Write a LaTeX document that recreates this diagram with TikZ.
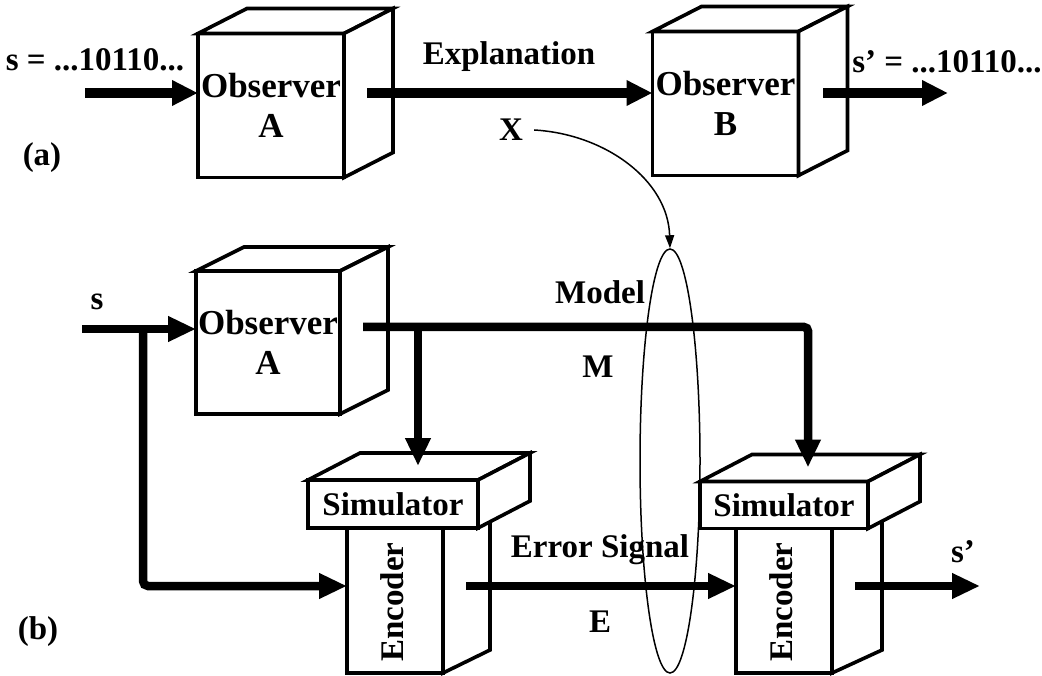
\documentclass[tikz,border=0pt]{standalone}
\usepackage{fontspec}
\setmainfont{Liberation Serif}
\usetikzlibrary{arrows.meta,calc,shapes.geometric}
\newcommand\cubefaces[3]{%
  \draw[face] (#1.north west) -- ++(#2,#3) -- ($(#1.north east)+(#2,#3)$) -- (#1.north east) -- cycle;
  \draw[face] (#1.north east) -- ++(#2,#3) -- ($(#1.south east)+(#2,#3)$) -- (#1.south east) -- cycle;}
\newcommand\sideface[3]{%
  \draw[face] (#1.north east) -- ++(#2,#3) -- ($(#1.south east)+(#2,#3)$) -- (#1.south east) -- cycle;}
\begin{document}
\begin{tikzpicture}[x=1pt,y=-1pt,
  face/.style={draw, line width=3.6pt, fill=white, line join=miter},
  lbl/.style={font=\fontsize{33}{40}\selectfont\bfseries, inner sep=0pt},
  box/.style={face, lbl, rectangle, inner sep=0pt, outer sep=0pt, align=center},
  obs/.style={box, font=\fontsize{35}{40}\selectfont\bfseries},
  fat/.style={line width=10pt, -{Triangle[length=26pt,width=24pt]}},
  fatb/.style={line width=8.5pt, -{Triangle[length=28pt,width=24pt]}},
  thinline/.style={line width=1.5pt}]
\useasboundingbox (0,0) rectangle (1042,676);

% ---------- (a) ----------
\node[obs, minimum width=146pt, minimum height=144pt] (oA) at (271,105.5) {Observer\\A};
\cubefaces{oA}{49}{-25}
\node[obs, minimum width=146pt, minimum height=144pt] (oB) at (725.5,103.5) {Observer\\B};
\cubefaces{oB}{49}{-25}

\coordinate (inA) at (85,93);
\coordinate (exS) at (367,93);
\coordinate (outBs) at (823,93);
\coordinate (outBe) at (948,93);
\draw[fat] (inA) -- (inA -| oA.west);
\draw[fat] (exS) -- (exS -| oB.west);
\draw[fat] (outBs) -- (outBe);

\node[lbl] (sA) at (95,60) {s = ...10110...};
\node[lbl] (expl) at (509,57) {Explanation};
\node[lbl] (X) at (511,130) {X};
\node[lbl] (sB) at (947,62) {s' = ...10110...};
\node[lbl] (la) at (42,158) {(a)};

% ---------- (b) ----------
\node[obs, minimum width=144pt, minimum height=143pt] (oC) at (268,342.5) {Observer\\A};
\cubefaces{oC}{48}{-24}

% encoders
\node[box, minimum width=96pt, minimum height=145pt] (enc1) at (395,600.5) {};
\sideface{enc1}{47}{-23}
\node[lbl, rotate=90] (e1t) at (392,602) {Encoder};
\node[box, minimum width=96pt, minimum height=145pt] (enc2) at (784,600.5) {};
\sideface{enc2}{50}{-23}
\node[lbl, rotate=90] (e2t) at (781,602) {Encoder};

% simulators
\node[box, minimum width=170pt, minimum height=48pt] (sim1) at (393,504) {Simulator};
\cubefaces{sim1}{52}{-27}
\node[box, minimum width=168pt, minimum height=47pt] (sim2) at (784,505) {Simulator};
\cubefaces{sim2}{52}{-27}

\coordinate (s1t) at ($(sim1.north)+(25,-14)$);
\coordinate (s2t) at ($(sim2.north)+(24,-14)$);
\coordinate (sIn) at (82,329);
\coordinate (br) at (143,329);
\coordinate (errY) at (0,586);
\coordinate (mS) at (363,327);
\coordinate (eS) at (466,586);
\coordinate (soS) at (855,586);
\coordinate (soE) at (980,586);

\draw[fatb] (sIn) -- (sIn -| oC.west);
\draw[fatb, rounded corners=5pt] (br) |- (errY -| enc1.west);
\draw[fatb, rounded corners=4pt] (mS) -- (mS -| s2t) -- (s2t);
\draw[fatb] (mS -| s1t) -- (s1t);
\draw[fatb] (eS) -- (errY -| enc2.west);
\draw[fatb] (soS) -- (soE);

\node[lbl] (s2) at (97,302) {s};
\node[lbl] (mod) at (600,292) {Model};
\node[lbl] (M) at (598,367) {M};
\node[lbl] (errl) at (600,550) {Error Signal};
\node[lbl] (E) at (600,622) {E};
\node[lbl] (sp) at (963,552) {s'};
\node[lbl] (lb) at (38,632) {(b)};

% ellipse and curved arrow
\node[draw, thinline, ellipse, minimum width=60pt, minimum height=424pt, inner sep=0pt] (ell) at (670,461) {};
\coordinate (xs) at ($(X.east)+(11,0)$);
\draw[thinline, -{Triangle[length=13pt,width=9pt]}] (xs) .. controls (605,134) and (668,180) .. (ell.north);
\end{tikzpicture}
\end{document}
